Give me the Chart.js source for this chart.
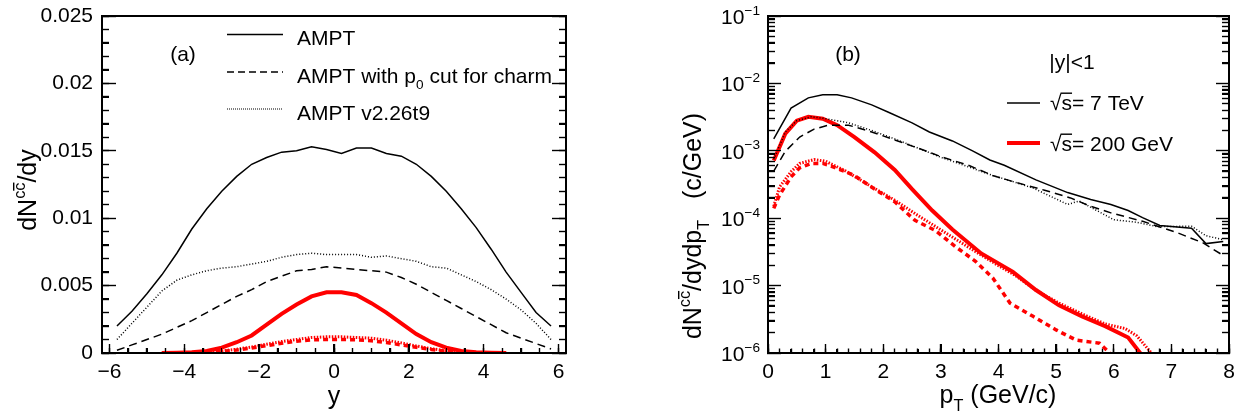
<!DOCTYPE html>
<html>
<head>
<meta charset="utf-8">
<script src="https://cdn.jsdelivr.net/npm/chart.js@4.4.1/dist/chart.umd.min.js"></script>
<style>
  body { margin: 0; background: #fff; overflow: hidden; }
  #wrap { position: relative; width: 1236px; height: 415px; }
  .panel { position: absolute; top: 0; height: 415px; }
  canvas { display: block; }
</style>
</head>
<body>
<div id="wrap">
  <div class="panel" id="panel_a" style="left:0;width:610px"><canvas id="chart_a" width="610" height="415"></canvas></div>
  <div class="panel" id="panel_b" style="left:610px;width:626px"><canvas id="chart_b" width="626" height="415"></canvas></div>
</div>
<script>
// ------------------ Panel (a): dN/dy vs rapidity ------------------
const rapidity = [-5.8, -5.4, -5.0, -4.6, -4.2, -3.8, -3.4, -3.0, -2.6, -2.2, -1.8, -1.4, -1.0, -0.6, -0.2,
                  0.2, 0.6, 1.0, 1.4, 1.8, 2.2, 2.6, 3.0, 3.4, 3.8, 4.2, 4.6, 5.0, 5.4, 5.8];
const ampt7 = [0.0020, 0.0031, 0.0044, 0.0058, 0.0074, 0.0092, 0.0107, 0.0120, 0.0131, 0.0140, 0.0145, 0.0149, 0.0150, 0.0153, 0.0151,
               0.0148, 0.0152, 0.0152, 0.0148, 0.0146, 0.0140, 0.0131, 0.0120, 0.0107, 0.0093, 0.0077, 0.0060, 0.0045, 0.0030, 0.0020];
const amptCut7 = [0.0002, 0.0006, 0.0010, 0.0014, 0.0019, 0.0024, 0.0030, 0.0036, 0.0042, 0.0047, 0.0053, 0.0057, 0.0061, 0.0062, 0.0064,
                  0.0063, 0.0062, 0.0061, 0.0060, 0.0056, 0.0051, 0.0045, 0.0039, 0.0033, 0.0027, 0.0021, 0.0015, 0.0011, 0.0007, 0.0003];
const amptOld7 = [0.0010, 0.0022, 0.0034, 0.0046, 0.0054, 0.0058, 0.0061, 0.0063, 0.0064, 0.0066, 0.0068, 0.0071, 0.0073, 0.0074, 0.0073,
                  0.0073, 0.0073, 0.0071, 0.0072, 0.0070, 0.0068, 0.0064, 0.0063, 0.0058, 0.0053, 0.0047, 0.0040, 0.0032, 0.0022, 0.0010];
const rapidity200 = [-4.6, -4.2, -3.8, -3.4, -3.0, -2.6, -2.2, -1.8, -1.4, -1.0, -0.6, -0.2,
                     0.2, 0.6, 1.0, 1.4, 1.8, 2.2, 2.6, 3.0, 3.4, 3.8, 4.2, 4.6];
const ampt200 = [0.0, 0.00002, 0.00005, 0.00015, 0.0004, 0.0008, 0.0013, 0.0021, 0.0029, 0.0036, 0.0042, 0.0045,
                 0.0045, 0.0043, 0.0037, 0.0030, 0.0022, 0.0014, 0.0008, 0.0004, 0.00015, 0.00005, 0.00002, 0.0];
const amptCut200 = [0.0, 0.00001, 0.00002, 0.00006, 0.00012, 0.00022, 0.00037, 0.00055, 0.00072, 0.00088, 0.00097, 0.0010,
                    0.0010, 0.00098, 0.0009, 0.00078, 0.0006, 0.00042, 0.00026, 0.00014, 0.00006, 0.00002, 0.00001, 0.0];
const amptOld200 = [0.0, 0.00001, 0.00003, 0.00008, 0.00015, 0.00028, 0.00045, 0.00065, 0.00085, 0.0010, 0.00115, 0.0012,
                    0.0012, 0.00115, 0.0011, 0.00095, 0.00075, 0.00052, 0.00032, 0.00017, 0.00008, 0.00003, 0.00001, 0.0];
const yTickLabels = [-6, -4, -2, 0, 2, 4, 6];
const dndyTicks = [0, 0.005, 0.01, 0.015, 0.02, 0.025];

// ------------------ Panel (b): dN/dydpT vs pT ------------------
const ptAmpt7 = [0.1, 0.4, 0.7, 0.95, 1.2, 1.45, 1.8, 2.1, 2.5, 2.8, 3.2, 3.55, 3.85, 4.1, 4.65, 5.2, 5.6, 5.95, 6.25, 6.5, 6.8, 7.35, 7.6, 7.9];
const specAmpt7 = [1.5e-3, 4.3e-3, 6.1e-3, 6.8e-3, 6.8e-3, 6.1e-3, 4.8e-3, 3.7e-3, 2.6e-3, 1.9e-3, 1.4e-3, 1.0e-3, 7.3e-4, 6.1e-4,
                   3.7e-4, 2.4e-4, 1.9e-4, 1.6e-4, 1.3e-4, 1.02e-4, 7.8e-5, 7.1e-5, 4.2e-5, 4.5e-5];
const ptCut7 = [0.1, 0.3, 0.55, 0.8, 1.05, 1.4, 1.8, 2.2, 2.6, 3.0, 3.5, 3.9, 4.3, 4.8, 5.25, 5.6, 5.95, 6.5, 7.1, 7.55, 7.9];
const specCut7 = [5.0e-4, 9.8e-4, 1.6e-3, 2.1e-3, 2.4e-3, 2.4e-3, 1.9e-3, 1.45e-3, 1.1e-3, 8.2e-4, 6.0e-4, 4.3e-4, 3.4e-4, 2.6e-4,
                  2.0e-4, 1.5e-4, 1.2e-4, 9.0e-5, 6.1e-5, 4.3e-5, 2.8e-5];
const ptOld7 = [0.1, 0.3, 0.5, 0.75, 1.0, 1.4, 1.8, 2.2, 2.6, 3.0, 3.5, 3.9, 4.2, 4.6, 5.2, 5.4, 6.0, 6.4, 6.75, 7.35, 7.6, 7.9];
const specOld7 = [7.5e-4, 1.9e-3, 2.8e-3, 3.2e-3, 3.0e-3, 2.6e-3, 2.0e-3, 1.5e-3, 1.1e-3, 8.0e-4, 5.7e-4, 4.3e-4, 3.6e-4, 2.8e-4,
                  1.6e-4, 1.8e-4, 9.5e-5, 8.7e-5, 7.5e-5, 7.6e-5, 5.5e-5, 4.8e-5];
const ptAmpt200 = [0.1, 0.3, 0.5, 0.7, 0.95, 1.2, 1.5, 1.85, 2.2, 2.5, 2.85, 3.2, 3.7, 4.25, 4.65, 5.05, 5.45, 5.85, 6.25, 6.5];
const specAmpt200 = [7.2e-4, 1.8e-3, 2.8e-3, 3.2e-3, 3.0e-3, 2.4e-3, 1.6e-3, 9.5e-4, 5.2e-4, 2.7e-4, 1.3e-4, 6.8e-5, 3.0e-5,
                     1.6e-5, 8.6e-6, 5.1e-6, 3.5e-6, 2.5e-6, 1.7e-6, 9e-7];
const ptCut200 = [0.1, 0.2, 0.4, 0.55, 0.75, 0.95, 1.15, 1.5, 1.85, 2.2, 2.55, 2.9, 3.25, 3.6, 3.9, 4.2, 4.6, 5.0, 5.35, 5.75, 6.05];
const specCut200 = [1.4e-4, 2.2e-4, 4.1e-4, 5.6e-4, 6.5e-4, 6.5e-4, 5.7e-4, 4.3e-4, 2.7e-4, 1.75e-4, 9.3e-5, 6.6e-5, 3.8e-5,
                    2.3e-5, 1.3e-5, 5.5e-6, 3.5e-6, 2.2e-6, 1.55e-6, 1.4e-6, 8e-7];
const ptOld200 = [0.1, 0.2, 0.4, 0.55, 0.8, 1.0, 1.35, 1.75, 2.2, 2.6, 3.05, 3.55, 3.95, 4.3, 4.65, 5.05, 5.45, 5.85, 6.2, 6.4, 6.75];
const specOld200 = [1.5e-4, 2.9e-4, 4.9e-4, 6.5e-4, 7.4e-4, 7.0e-4, 5.0e-4, 3.1e-4, 1.85e-4, 1.1e-4, 6.3e-5, 3.4e-5, 2.1e-5,
                    1.4e-5, 8.5e-6, 5.5e-6, 3.8e-6, 2.7e-6, 2.3e-6, 1.8e-6, 8e-7];
const ptTickLabels = [0, 1, 2, 3, 4, 5, 6, 7, 8];
const decadeExponents = [-6, -5, -4, -3, -2, -1];

// ------------------ Helpers ------------------
const FONT = '"Liberation Sans", Arial, Helvetica, sans-serif';
const RED = "#ff0000";
const tickFont = { family: FONT, size: 21 };

function toPoints(xs, ys) {
    return xs.map((x, i) => ({ x: x, y: ys[i] }));
}

function minus(v) {
    return String(v).replace("-", "\u2212");
}

// draws a list of [text, kind] pieces; kind: "" | "sup" | "sub" | "supbar" | "bar"
function drawRich(ctx, parts, x, y, size, align) {
    const pieces = parts.map(([t, kind]) => {
        const small = kind === "sup" || kind === "sub" || kind === "supbar";
        const fs = small ? size * 0.65 : size;
        ctx.font = fs + "px " + FONT;
        return { t: t, kind: kind, fs: fs, w: ctx.measureText(t).width };
    });
    const total = pieces.reduce((s, p) => s + p.w, 0);
    let cx = align === "center" ? x - total / 2 : (align === "right" ? x - total : x);
    ctx.textAlign = "left";
    ctx.textBaseline = "alphabetic";
    pieces.forEach((p) => {
        let dy = 0;
        if (p.kind === "sup" || p.kind === "supbar") dy = -size * 0.45;
        if (p.kind === "sub") dy = size * 0.3;
        ctx.font = p.fs + "px " + FONT;
        ctx.fillText(p.t, cx, y + dy);
        if (p.kind === "supbar" || p.kind === "bar") {
            const by = y + dy - p.fs * (p.kind === "bar" ? 0.8 : 0.68);
            ctx.fillRect(cx - (p.kind === "bar" ? 1 : 0), by - 0.7, p.w + (p.kind === "bar" ? 1 : 0), 1.4);
        }
        cx += p.w;
    });
}

function segment(ctx, x1, y1, x2, y2, color, width, dash) {
    ctx.save();
    ctx.strokeStyle = color;
    ctx.lineWidth = width;
    ctx.setLineDash(dash);
    ctx.beginPath();
    ctx.moveTo(x1, y1);
    ctx.lineTo(x2, y2);
    ctx.stroke();
    ctx.restore();
}

function textPlugin(draw) {
    return {
        id: "panelText",
        afterDraw(chart) {
            const { ctx } = chart;
            ctx.save();
            ctx.fillStyle = "#000";
            ctx.strokeStyle = "#000";
            draw(ctx, chart);
            ctx.restore();
        },
    };
}

function lineSet(label, points, color, width, dash) {
    return {
        label: label,
        data: points,
        borderColor: color,
        backgroundColor: color,
        borderWidth: width,
        borderDash: dash,
        pointRadius: 0,
        tension: 0,
        fill: false,
        xAxisID: "x",
        yAxisID: "y",
    };
}

// one axis of the ROOT-style frame: inward ticks at the given values, optional border and labels
function frameAxis(type, min, max, position, weight, values, tickLen, border, labels) {
    const horizontal = position === "top" || position === "bottom";
    return {
        type: type,
        min: min,
        max: max,
        position: position,
        weight: weight,
        grid: {
            display: values.length > 0,
            drawOnChartArea: false,
            drawTicks: true,
            tickLength: -tickLen,
            tickWidth: 1.4,
            tickColor: "#000",
        },
        border: { display: border, width: 2, color: "#000" },
        afterBuildTicks: (s) => { s.ticks = values.map((v) => ({ value: v })); },
        ticks: labels
            ? Object.assign({ color: "#000", font: tickFont, autoSkip: false, maxRotation: 0 }, labels.ticks)
            : { display: false },
        afterFit: (s) => {
            const size = labels ? labels.size : 0;
            if (horizontal) { s.height = size; s.paddingLeft = 0; s.paddingRight = 0; }
            else { s.width = size; s.paddingTop = 0; s.paddingBottom = 0; }
        },
    };
}

// frame and inward ticks repeated as page elements, placed from the chart's own scales
function overlayFrame(chart, panel, xTicks, yTicks) {
    const a = chart.chartArea;
    const xs = chart.scales.x;
    const ys = chart.scales.y;
    const add = (l, t, w, h) => {
        const d = document.createElement("div");
        d.style.cssText = "position:absolute;background:#000;pointer-events:none;left:" + l + "px;top:" + t +
            "px;width:" + w + "px;height:" + h + "px";
        panel.appendChild(d);
    };
    add(a.left - 1, a.top - 1, a.right - a.left + 2, 2);
    add(a.left - 1, a.bottom - 1, a.right - a.left + 2, 2);
    add(a.left - 1, a.top - 1, 2, a.bottom - a.top + 2);
    add(a.right - 1, a.top - 1, 2, a.bottom - a.top + 2);
    xTicks.forEach(([v, len]) => {
        const px = xs.getPixelForValue(v);
        add(px - 0.7, a.bottom - len, 1.4, len);
    });
    yTicks.forEach(([v, len]) => {
        const py = ys.getPixelForValue(v);
        add(a.left, py - 0.7, len, 1.4);
        add(a.right - len, py - 0.7, len, 1.4);
    });
}

// ------------------ Chart (a) ------------------
const xMinorA = [];
for (let k = -12; k <= 12; k++) xMinorA.push(k * 0.5);
const yMinorA = [];
for (let k = 0; k <= 25; k++) yMinorA.push(k * 0.001);

const chartA = new Chart(document.getElementById("chart_a"), {
    type: "line",
    data: {
        datasets: [
            lineSet("AMPT", toPoints(rapidity, ampt7), "#000", 1.5, []),
            lineSet("AMPT with p0 cut for charm", toPoints(rapidity, amptCut7), "#000", 1.5, [8, 5]),
            lineSet("AMPT v2.26t9", toPoints(rapidity, amptOld7), "#000", 1.5, [1, 2]),
            lineSet("AMPT 200 GeV", toPoints(rapidity200, ampt200), RED, 4, []),
            lineSet("AMPT with p0 cut 200 GeV", toPoints(rapidity200, amptCut200), RED, 3.5, [5, 4]),
            lineSet("AMPT v2.26t9 200 GeV", toPoints(rapidity200, amptOld200), RED, 3, [1.5, 1.5]),
        ],
    },
    options: {
        responsive: false,
        animation: false,
        layout: { padding: { top: 16, right: 44, left: 0, bottom: 0 } },
        plugins: { legend: { display: false }, tooltip: { enabled: false } },
        scales: {
            x: frameAxis("linear", -6.2, 6.2, "bottom", 1, yTickLabels, 9, true,
                { size: 62, ticks: { padding: 16, callback: (v) => minus(v) } }),
            xMinor: frameAxis("linear", -6.2, 6.2, "bottom", 0, xMinorA, 5, false, null),
            xTop: frameAxis("linear", -6.2, 6.2, "top", 0, [], 0, true, null),
            y: frameAxis("linear", 0, 0.025, "left", 1, dndyTicks, 14, true,
                { size: 102, ticks: { padding: 23, callback: (v) => String(Number(v.toFixed(3))) } }),
            yMinor: frameAxis("linear", 0, 0.025, "left", 0, yMinorA, 7, false, null),
            yRight: frameAxis("linear", 0, 0.025, "right", 0, dndyTicks, 14, true, null),
            yRightMinor: frameAxis("linear", 0, 0.025, "right", 1, yMinorA, 7, false, null),
        },
    },
    plugins: [textPlugin((ctx) => {
        // axis titles
        drawRich(ctx, [["y", ""]], 334, 404, 25, "center");
        ctx.save();
        ctx.translate(36, 190);
        ctx.rotate(-Math.PI / 2);
        drawRich(ctx, [["dN", ""], ["c", "sup"], ["c", "supbar"], ["/dy", ""]], 0, 0, 25, "center");
        ctx.restore();
        // panel label and legend
        drawRich(ctx, [["(a)", ""]], 183, 61, 21, "center");
        segment(ctx, 227, 34.5, 283, 34.5, "#000", 1.5, []);
        segment(ctx, 227, 72, 283, 72, "#000", 1.5, [7, 4]);
        segment(ctx, 227, 109, 283, 109, "#000", 1.2, [1, 1]);
        drawRich(ctx, [["AMPT", ""]], 297, 44.5, 21, "left");
        drawRich(ctx, [["AMPT with p", ""], ["0", "sub"], [" cut for charm", ""]], 297, 82.5, 21, "left");
        drawRich(ctx, [["AMPT v2.26t9", ""]], 297, 119.5, 21, "left");
    })],
});

overlayFrame(chartA, document.getElementById("panel_a"),
    yTickLabels.map((v) => [v, 9]).concat(xMinorA.map((v) => [v, 5])),
    dndyTicks.map((v) => [v, 14]).concat(yMinorA.map((v) => [v, 7])));

// ------------------ Chart (b) ------------------
const xMinorB = [];
for (let k = 0; k <= 40; k++) xMinorB.push(k * 0.2);
const decades = decadeExponents.map((e) => Math.pow(10, e));
const yMinorB = [];
decadeExponents.forEach((e) => {
    if (e < -1) {
        for (let m = 2; m <= 9; m++) yMinorB.push(m * Math.pow(10, e));
    }
});

const chartB = new Chart(document.getElementById("chart_b"), {
    type: "line",
    data: {
        datasets: [
            lineSet("7 TeV AMPT", toPoints(ptAmpt7, specAmpt7), "#000", 1.5, []),
            lineSet("7 TeV AMPT with p0 cut", toPoints(ptCut7, specCut7), "#000", 1.5, [8, 5]),
            lineSet("7 TeV AMPT v2.26t9", toPoints(ptOld7, specOld7), "#000", 1.5, [1, 2]),
            lineSet("200 GeV AMPT", toPoints(ptAmpt200, specAmpt200), RED, 4, []),
            lineSet("200 GeV AMPT with p0 cut", toPoints(ptCut200, specCut200), RED, 3.5, [5, 4]),
            lineSet("200 GeV AMPT v2.26t9", toPoints(ptOld200, specOld200), RED, 3, [1.5, 1.5]),
        ].map((d) => Object.assign(d, { clip: 0 })),
    },
    options: {
        responsive: false,
        animation: false,
        layout: { padding: { top: 16, right: 7, left: 0, bottom: 0 } },
        plugins: { legend: { display: false }, tooltip: { enabled: false } },
        scales: {
            x: frameAxis("linear", 0, 8, "bottom", 1, ptTickLabels, 9, true,
                { size: 62, ticks: { padding: 16 } }),
            xMinor: frameAxis("linear", 0, 8, "bottom", 0, xMinorB, 4.5, false, null),
            xTop: frameAxis("linear", 0, 8, "top", 0, [], 0, true, null),
            y: frameAxis("logarithmic", 1e-6, 1e-1, "left", 1, decades, 13, true,
                { size: 158, ticks: { display: false } }),
            yMinor: frameAxis("logarithmic", 1e-6, 1e-1, "left", 0, yMinorB, 7, false, null),
            yRight: frameAxis("logarithmic", 1e-6, 1e-1, "right", 0, decades, 13, true, null),
            yRightMinor: frameAxis("logarithmic", 1e-6, 1e-1, "right", 1, yMinorB, 7, false, null),
        },
    },
    plugins: [textPlugin((ctx, chart) => {
        const ys = chart.scales.y;
        const left = chart.chartArea.left;
        // log axis labels 10^n
        decadeExponents.forEach((e) => {
            const py = ys.getPixelForValue(Math.pow(10, e));
            drawRich(ctx, [["10", ""], [minus(e), "sup"]], left - 8, py + 8, 21, "right");
        });
        // axis titles
        drawRich(ctx, [["p", ""], ["T", "sub"], [" (GeV/c)", ""]], 388, 403, 25, "center");
        ctx.save();
        ctx.translate(91, 226);
        ctx.rotate(-Math.PI / 2);
        drawRich(ctx, [["dN", ""], ["c", "sup"], ["c", "supbar"], ["/dydp", ""], ["T", "sub"], ["   (c/GeV)", ""]], 0, 0, 25, "center");
        ctx.restore();
        // panel label and legend
        drawRich(ctx, [["(b)", ""]], 238, 61, 21, "center");
        drawRich(ctx, [["|y|<1", ""]], 462, 69, 21, "center");
        segment(ctx, 397, 103, 430, 103, "#000", 1.5, []);
        segment(ctx, 397, 143, 430, 143, RED, 4, []);
        drawRich(ctx, [["\u221A", ""], ["s", "bar"], ["= 7 TeV", ""]], 440, 110, 21, "left");
        drawRich(ctx, [["\u221A", ""], ["s", "bar"], ["= 200 GeV", ""]], 440, 151, 21, "left");
    })],
});

overlayFrame(chartB, document.getElementById("panel_b"),
    ptTickLabels.map((v) => [v, 9]).concat(xMinorB.map((v) => [v, 4.5])),
    decades.map((v) => [v, 13]).concat(yMinorB.map((v) => [v, 7])));
</script>
</body>
</html>
